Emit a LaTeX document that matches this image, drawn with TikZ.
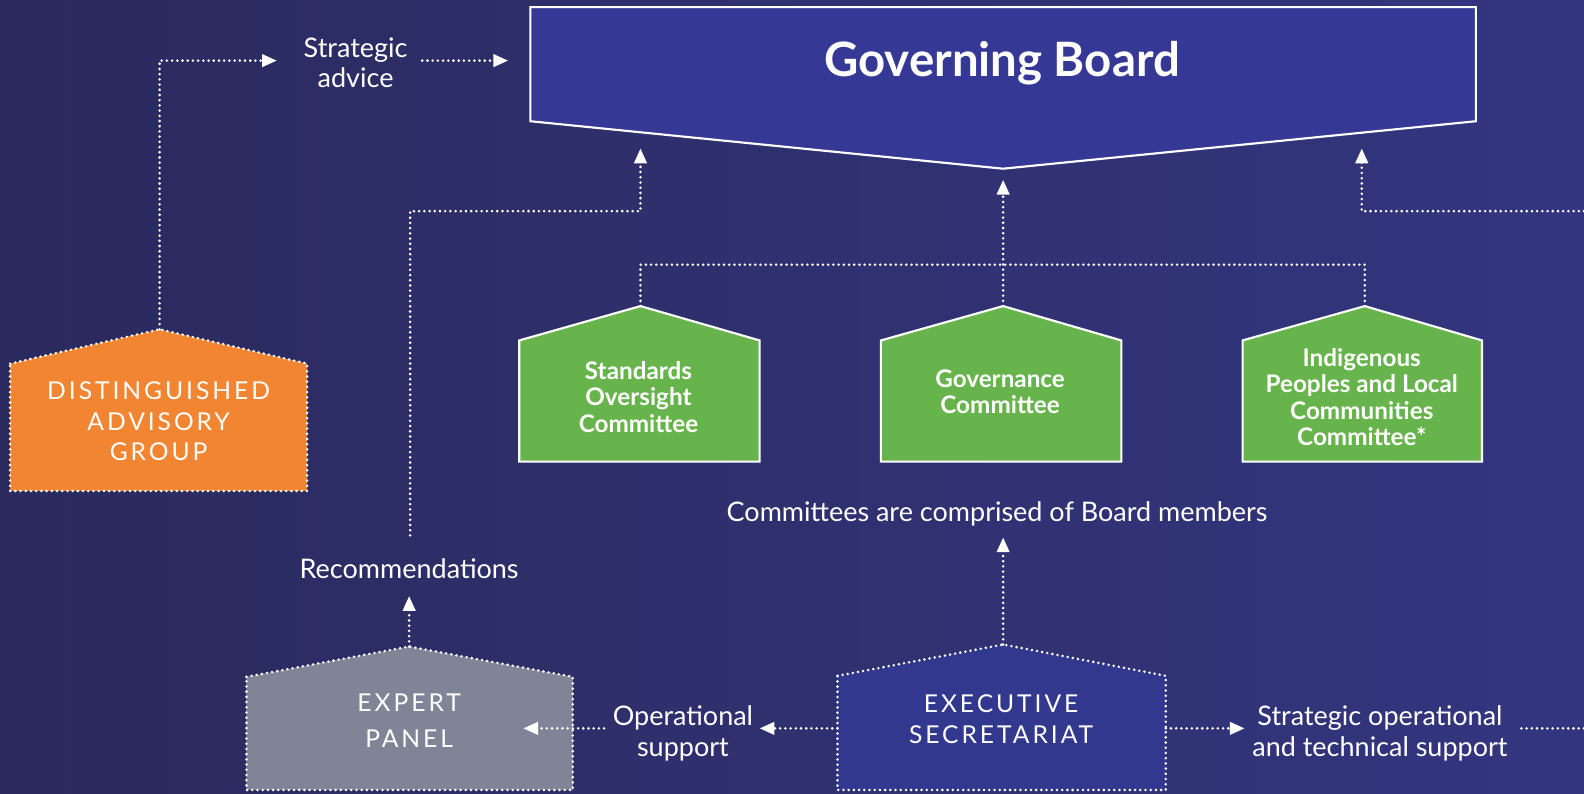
\documentclass[tikz,border=0pt]{standalone}
\usepackage{fontspec}
\setmainfont{Lato}
\usetikzlibrary{arrows.meta}

\definecolor{bgLeft}{HTML}{2B2A5E}
\definecolor{bgRight}{HTML}{33367F}
\definecolor{boardFill}{HTML}{353995}
\definecolor{cmteFill}{HTML}{68B44C}
\definecolor{dagFill}{HTML}{F28531}
\definecolor{panelFill}{HTML}{7F8596}
\definecolor{secFill}{HTML}{33388F}

\tikzset{
  dotline/.style={draw=white, line width=2.4pt, line cap=round, dash pattern=on 0pt off 4.4pt},
  link/.style={dotline, -{Triangle[length=12.5pt,width=10.5pt]}},
  solidbox/.style={draw=white, line width=1.8pt, line join=miter},
  dotbox/.style={dotline},
  lbl/.style={text=white, align=center, font=\fontsize{22.8}{25.6}\selectfont},
  capslbl/.style={text=white, align=center, font=\fontsize{20.8}{25.6}\selectfont\addfontfeatures{LetterSpace=12}},
  cmtelbl/.style={text=white, align=center, font=\bfseries\fontsize{20.5}{22.3}\selectfont},
}

\begin{document}
\begin{tikzpicture}[x=0.03cm, y=-0.03cm]
  % background
  \shade[left color=bgLeft, right color=bgRight] (0,0) rectangle (1568,785);
  \useasboundingbox (0,0) rectangle (1568,785);

  % Governing Board
  \filldraw[solidbox, fill=boardFill] (525,7) -- (1461,7) -- (1461,120) -- (993,167) -- (525,120) -- cycle;
  \node[text=white, font=\bfseries\fontsize{40}{42}\selectfont] (gb) at (992,63) {Governing Board};
  \coordinate (gbW)  at (503,60);
  \coordinate (gbL)  at (634,147);
  \coordinate (gbC)  at (993,178);
  \coordinate (gbR)  at (1348,147);

  % Distinguished Advisory Group
  \filldraw[dotbox, fill=dagFill] (10,360) -- (158,326) -- (304,360) -- (304,486) -- (10,486) -- cycle;
  \coordinate (dagTop) at (158,326);
  \node[capslbl] (dag) at (157,417) {DISTINGUISHED\\ADVISORY\\GROUP};

  % Strategic advice
  \node[lbl] (sa) at (352,62) {Strategic\\advice};
  \coordinate (saW) at (274,60);
  \coordinate (saE) at (418,60);

  % Committees
  \filldraw[solidbox, fill=cmteFill] (514,337) -- (634,303) -- (752,337) -- (752,457) -- (514,457) -- cycle;
  \coordinate (socTop) at (634,303);
  \node[cmtelbl] (soc) at (632,393) {Standards\\Oversight\\Committee};

  \filldraw[solidbox, fill=cmteFill] (872,337) -- (993,303) -- (1110,337) -- (1110,457) -- (872,457) -- cycle;
  \coordinate (gcTop) at (993,303);
  \node[cmtelbl] (gc) at (990,388) {Governance\\Committee};

  \filldraw[solidbox, fill=cmteFill] (1230,337) -- (1351,303) -- (1467,337) -- (1467,457) -- (1230,457) -- cycle;
  \coordinate (iplcTop) at (1351,303);
  \node[cmtelbl] (iplc) at (1348,393) {Indigenous\\Peoples and Local\\Communities\\Committee*};

  \coordinate (busY) at (0,262);
  \coordinate (rowY) at (0,209);

  \node[lbl] (cmtnote) at (987,509) {Committees are comprised of Board members};
  \coordinate (noteS) at (993,532);

  % Recommendations
  \node[lbl] (rec) at (405,563) {Recommendations};
  \coordinate (recN) at (406,530);
  \coordinate (recS) at (405,590);

  % Expert Panel
  \filldraw[dotbox, fill=panelFill] (244,670) -- (405,640) -- (567,670) -- (567,782) -- (244,782) -- cycle;
  \coordinate (epTop) at (405,640);
  \coordinate (epIn) at (518,721);
  \node[capslbl, font=\fontsize{20.8}{30.5}\selectfont\addfontfeatures{LetterSpace=12}] (ep) at (405,713) {EXPERT\\PANEL};

  % Operational support
  \node[lbl] (ops) at (676,726) {Operational\\support};
  \coordinate (opsW) at (598,721);
  \coordinate (opsE) at (752,721);

  % Executive Secretariat
  \filldraw[dotbox, fill=secFill] (829,669) -- (993,638) -- (1154,669) -- (1154,782) -- (829,782) -- cycle;
  \coordinate (esTop) at (993,638);
  \coordinate (esW) at (829,721);
  \coordinate (esE) at (1154,721);
  \node[capslbl, font=\fontsize{20.8}{26.5}\selectfont\addfontfeatures{LetterSpace=12}] (es) at (991,712) {EXECUTIVE\\SECRETARIAT};

  % Strategic operational and technical support
  \node[lbl] (sots) at (1366,726) {Strategic operational\\and technical support};
  \coordinate (sotsW) at (1232,721);
  \coordinate (sotsE) at (1506,721);
  \coordinate (edgeS) at (1568,721);
  \coordinate (edgeN) at (1568,209);

  % connectors
  \draw[link] (dagTop) |- (saW);
  \draw[link] (saE) -- (gbW);
  \draw[dotline] (socTop) -- (socTop |- busY) -| (iplcTop);
  \draw[link] (gcTop) -- (gbC);
  \draw[link] (recN) |- (gbL |- rowY) -- (gbL);
  \draw[link] (edgeN) -| (gbR);
  \draw[link] (epTop) -- (recS);
  \draw[link] (esTop) -- (noteS);
  \draw[link] (esW) -- (opsE);
  \draw[link] (opsW) -- (epIn);
  \draw[link] (esE) -- (sotsW);
  \draw[dotline] (sotsE) -- (edgeS);
\end{tikzpicture}
\end{document}
